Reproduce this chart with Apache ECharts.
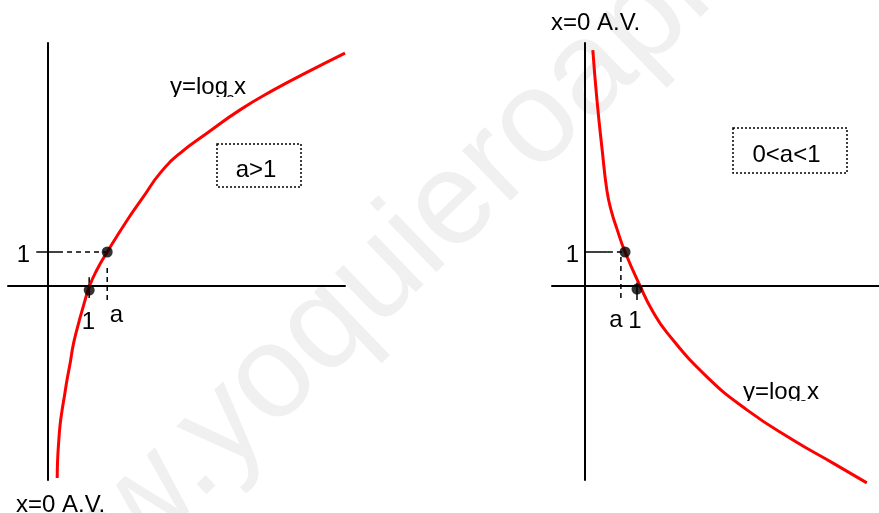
<!DOCTYPE html>
<html>
<head>
<meta charset="utf-8">
<script src="https://cdn.jsdelivr.net/npm/echarts@6/dist/echarts.min.js"></script>
<style>
  html, body { margin: 0; padding: 0; background: #fff; }
  #main { width: 879px; height: 513px; }
</style>
</head>
<body>
<div id="main"></div>
<script>
// unidades: 1 = la marca "1" de cada eje
// a > 1
const curvaCreciente = [
  [0.22, -5.65], [0.23, -5.12], [0.26, -4.53], [0.29, -4.09], [0.34, -3.65],
  [0.40, -3.21], [0.46, -2.76], [0.54, -2.24], [0.61, -1.74], [0.71, -1.24],
  [0.83, -0.71], [1.01, 0], [1.20, 0.5], [1.44, 1.0], [1.93, 1.94],
  [2.32, 2.62], [2.73, 3.32], [3.22, 3.91], [3.88, 4.5], [4.68, 5.18],
  [5.49, 5.76], [6.32, 6.29], [7.24, 6.85]
]
const puntosCreciente = [[1.0, -0.12], [1.44, 1.0]]
const marcaY1Izq = [[-0.29, 1], [0.24, 1]]
const guiaHorizIzq = [[0.24, 1], [1.44, 1]]
const guiaVertIzq = [[1.44, 0.53], [1.44, -0.41]]
const marcaX1Izq = [[1.0, 0.26], [1.0, -0.35]]

// 0 < a < 1
const curvaDecreciente = [
  [0.15, 6.94], [0.23, 5.47], [0.33, 4.0], [0.42, 2.82], [0.5, 2.24],
  [0.62, 1.65], [0.77, 1.0], [1.06, 0], [1.29, -0.71], [1.58, -1.38],
  [2.35, -2.68], [3.12, -3.65], [4.0, -4.53], [4.77, -5.21], [5.42, -5.79]
]
const puntosDecreciente = [[0.77, 1.0], [1.0, -0.09]]
const marcaY1Der = [[0, 1], [0.44, 1]]
const guiaHorizDer = [[0.44, 1], [0.77, 1]]
const guiaVertDer = [[0.69, 0.85], [0.69, -0.41]]
const marcaX1Der = [[1.0, 0.1], [1.0, -0.41]]

const FONT = '"Liberation Sans", Arial, sans-serif'

const chart = echarts.init(document.getElementById('main'))

function eje(grid, min, max) {
  return {
    gridIndex: grid,
    type: 'value',
    min: min,
    max: max,
    axisLine: { onZero: true, lineStyle: { color: '#000', width: 2 } },
    axisTick: { show: false },
    axisLabel: { show: false },
    splitLine: { show: false }
  }
}

function linea(grid, data, color, width, type) {
  return {
    type: 'line',
    xAxisIndex: grid,
    yAxisIndex: grid,
    data: data,
    symbol: 'none',
    clip: false,
    silent: true,
    smooth: type === 'curve' ? 0.5 : false,
    lineStyle: { color: color, width: width, type: type === 'dashed' ? [5, 4] : 'solid' },
    z: type === 'curve' ? 4 : 3
  }
}

function puntos(grid, data) {
  return {
    type: 'scatter',
    xAxisIndex: grid,
    yAxisIndex: grid,
    data: data,
    symbolSize: 11,
    itemStyle: { color: '#000' },
    silent: true,
    z: 5
  }
}

function txt(x, y, text, align, size) {
  return {
    type: 'text',
    x: x,
    y: y,
    z: 2,
    style: {
      text: text,
      font: (size || 24) + 'px ' + FONT,
      fill: '#000',
      align: align || 'center',
      verticalAlign: 'middle'
    }
  }
}

function caja(x, y, w, h) {
  return {
    type: 'rect',
    z: 2,
    shape: { x: x, y: y, width: w, height: h },
    style: { fill: 'none', stroke: '#000', lineWidth: 1.5, lineDash: [2, 2] }
  }
}

// tapa blanca: el rotulo original sale cortado por debajo
function tapa(x, y, w, h) {
  return {
    type: 'rect',
    z: 3,
    shape: { x: x, y: y, width: w, height: h },
    style: { fill: '#fff' }
  }
}

const option = {
  backgroundColor: '#fff',
  animation: false,
  grid: [
    { left: 8, top: 43, width: 337, height: 437 },
    { left: 552, top: 43, width: 327, height: 437 }
  ],
  xAxis: [eje(0, -0.98, 7.24), eje(1, -0.635, 5.654)],
  yAxis: [eje(0, -5.706, 7.147), eje(1, -5.706, 7.147)],
  graphic: [
    {
      type: 'text',
      x: -28,
      y: 670,
      rotation: 0.768,
      z: -10,
      style: {
        text: 'www.yoquieroaprobar.es',
        font: '132px ' + FONT,
        fill: '#f0f0f0',
        align: 'left',
        verticalAlign: 'middle'
      }
    },
    txt(23.5, 255, '1'),
    txt(88.5, 322, '1'),
    txt(116.5, 315, 'a'),
    txt(572.5, 255, '1'),
    txt(616, 320, 'a'),
    txt(635, 321, '1'),
    txt(551, 23, 'x=0 A.V.', 'left'),
    txt(16, 505, 'x=0 A.V.', 'left'),
    txt(170, 87, 'y=log', 'left'),
    txt(226, 100, 'a', 'left', 16),
    txt(234, 87, 'x', 'left'),
    tapa(166, 97, 86, 12),
    txt(743, 392, 'y=log', 'left'),
    txt(799, 405, 'a', 'left', 16),
    txt(807, 392, 'x', 'left'),
    tapa(739, 401, 88, 12),
    caja(217, 144, 84, 43),
    txt(256, 170, 'a>1'),
    caja(733, 128, 114, 45),
    txt(786.5, 155, '0<a<1')
  ],
  series: [
    linea(0, curvaCreciente, '#ff0000', 3, 'curve'),
    linea(0, marcaY1Izq, '#000', 1.5, 'solid'),
    linea(0, guiaHorizIzq, '#000', 1.5, 'dashed'),
    linea(0, guiaVertIzq, '#000', 1.5, 'dashed'),
    linea(0, marcaX1Izq, '#000', 1.5, 'solid'),
    puntos(0, puntosCreciente),
    linea(1, curvaDecreciente, '#ff0000', 3, 'curve'),
    linea(1, marcaY1Der, '#000', 1.5, 'solid'),
    linea(1, guiaHorizDer, '#000', 1.5, 'dashed'),
    linea(1, guiaVertDer, '#000', 1.5, 'dashed'),
    linea(1, marcaX1Der, '#000', 1.5, 'solid'),
    puntos(1, puntosDecreciente)
  ]
}

chart.setOption(option)
</script>
</body>
</html>
